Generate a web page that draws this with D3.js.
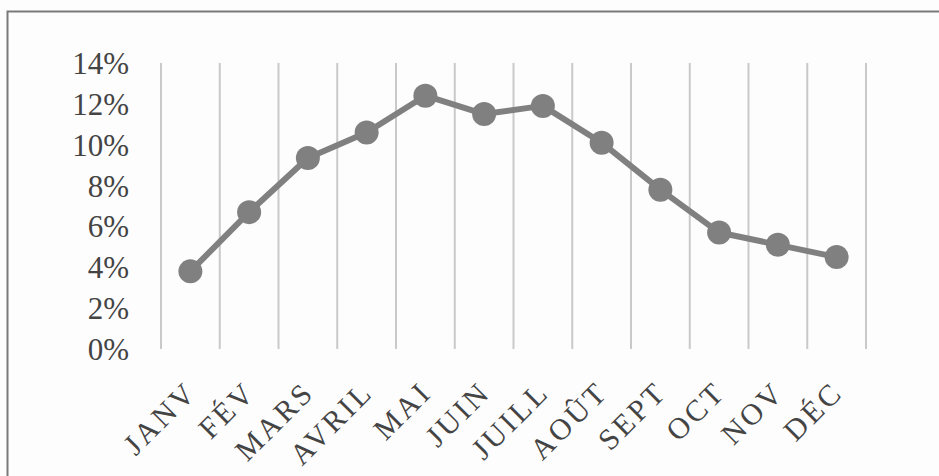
<!DOCTYPE html>
<html>
<head>
<meta charset="utf-8">
<script src="https://cdn.jsdelivr.net/npm/d3@7/dist/d3.min.js"></script>
<style>
html,body{margin:0;padding:0;background:#fff;}
svg{display:block;}
text{font-family:"Liberation Serif","Times New Roman",serif;fill:#444;}
</style>
</head>
<body>
<script>
const months = ["JANV","FÉV","MARS","AVRIL","MAI","JUIN","JUILL","AOÛT","SEPT","OCT","NOV","DÉC"];
const values = [3.8, 6.7, 9.35, 10.6, 12.4, 11.5, 11.9, 10.1, 7.8, 5.7, 5.1, 4.5];
const yTicks = [0, 2, 4, 6, 8, 10, 12, 14];

const W = 939, H = 476;
const svg = d3.select("body").append("svg").attr("width", W).attr("height", H);

svg.append("rect").attr("width", W).attr("height", H).attr("fill", "#fdfdfd");
// frame
svg.append("path")
  .attr("d", `M7.5,${H + 5} L7.5,11.5 L${W + 5},11.5`)
  .attr("fill", "none").attr("stroke", "#7a7a7a").attr("stroke-width", 2);

const x = d3.scaleBand().domain(months).range([161, 866]).padding(0);
const y = d3.scaleLinear().domain([0, 14]).range([349, 63]);

// vertical gridlines at band edges
const edges = months.map(m => x(m)).concat([x.range()[1]]);
svg.append("g").selectAll("line").data(edges).join("line")
  .attr("x1", d => d).attr("x2", d => d)
  .attr("y1", y(14)).attr("y2", y(0))
  .attr("stroke", "#c9c9c9").attr("stroke-width", 2);

// y axis labels
const yAxis = d3.axisLeft(y).tickValues(yTicks).tickFormat(d => d + "%").tickSize(0).tickPadding(0);
const ga = svg.append("g").attr("transform", "translate(129,0)").call(yAxis);
ga.select(".domain").remove();
ga.selectAll("text").attr("font-size", 31).attr("fill", "#4a4a4a")
  .attr("font-family", '"Liberation Serif", serif').attr("dy", "0.34em");

// x labels
const xAxis = d3.axisBottom(x).tickSize(0).tickPadding(0);
const gx = svg.append("g").call(xAxis);
gx.select(".domain").remove();
gx.selectAll(".tick").attr("transform", d => `translate(${x(d) + x.bandwidth() / 2 + 8},394)`);
gx.selectAll("text")
  .attr("y", 0).attr("dy", 0)
  .attr("text-anchor", "end")
  .attr("transform", "rotate(-45)")
  .attr("font-size", 30).attr("fill", "#3a3a3a")
  .attr("font-family", '"Liberation Serif", serif')
  .style("letter-spacing", "3px");

// line
const line = d3.line().x((d, i) => x(months[i]) + x.bandwidth() / 2).y(d => y(d));
svg.append("path").datum(values).attr("d", line)
  .attr("fill", "none").attr("stroke", "#808080").attr("stroke-width", 6).attr("stroke-linejoin", "round");

svg.append("g").selectAll("circle").data(values).join("circle")
  .attr("cx", (d, i) => x(months[i]) + x.bandwidth() / 2)
  .attr("cy", d => y(d))
  .attr("r", 12)
  .attr("fill", "#808080");
</script>
</body>
</html>
